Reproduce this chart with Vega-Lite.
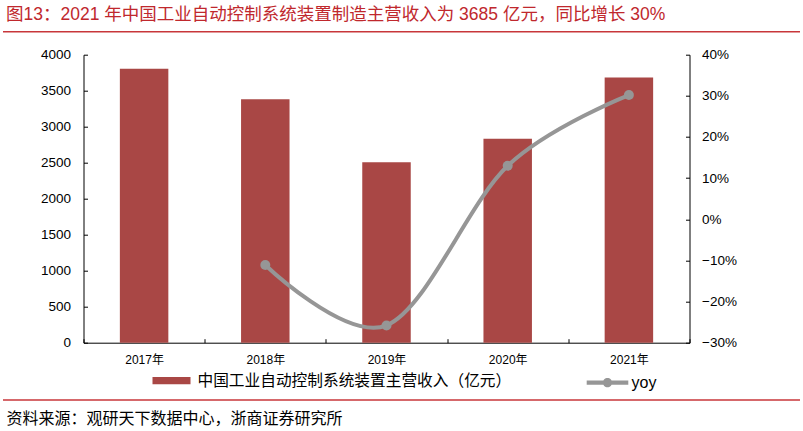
{
  "$schema": "https://vega.github.io/schema/vega-lite/v6.json",
  "width": 606,
  "height": 288,
  "autosize": {"type": "none"},
  "padding": {"left": 83.5, "top": 54.7, "right": 113.5, "bottom": 88.3},
  "background": "white",
  "config": {
    "view": {"stroke": null},
    "font": "Liberation Sans, Noto Sans CJK SC",
    "axis": {
      "domainColor": "#000000",
      "domainWidth": 1,
      "tickColor": "#000000",
      "tickWidth": 1,
      "labelColor": "#000000",
      "labelFont": "Liberation Sans, Noto Sans CJK SC",
      "grid": false
    },
    "legend": {"padding": 0, "labelColor": "#000000", "labelFont": "Liberation Sans, Noto Sans CJK SC"}
  },
  "title": {
    "text": "图13：2021 年中国工业自动控制系统装置制造主营收入为 3685 亿元，同比增长 30%",
    "anchor": "start",
    "frame": "group",
    "dx": -77.5,
    "offset": 7,
    "fontSize": 17.5,
    "fontWeight": "normal",
    "color": "#c0282d",
    "font": "Liberation Sans, Noto Sans CJK SC"
  },
  "data": {
    "values": [
      {"year": "2017年", "income": 3805, "yoy": null},
      {"year": "2018年", "income": 3380, "yoy": -0.111},
      {"year": "2019年", "income": 2505, "yoy": -0.258},
      {"year": "2020年", "income": 2833, "yoy": 0.13},
      {"year": "2021年", "income": 3685, "yoy": 0.302}
    ]
  },
  "layer": [
    {
      "mark": {"type": "bar", "width": {"band": 0.4}},
      "encoding": {
        "x": {
          "field": "year",
          "type": "nominal",
          "sort": null,
          "scale": {"paddingInner": 0, "paddingOuter": 0},
          "axis": {
            "title": "资料来源：观研天下数据中心，浙商证券研究所",
            "labelAngle": 0,
            "labelFontSize": 12,
            "labelBaseline": "middle",
            "labelPadding": 21,
            "tickBand": "extent",
            "tickSize": -4,
            "titleX": -77.5,
            "titleY": 75.3,
            "titleAlign": "left",
            "titleAnchor": "start",
            "titleBaseline": "middle",
            "titleFontSize": 16,
            "titleFontWeight": "normal",
            "titleColor": "#000000",
            "titleFont": "Noto Sans CJK SC"
          }
        },
        "y": {
          "field": "income",
          "type": "quantitative",
          "scale": {"domain": [0, 4000], "nice": false},
          "axis": {
            "title": null,
            "values": [0, 500, 1000, 1500, 2000, 2500, 3000, 3500, 4000],
            "format": "d",
            "labelFontSize": 13.5,
            "labelBaseline": "middle",
            "labelPadding": 17,
            "tickSize": -4
          }
        },
        "color": {
          "datum": "中国工业自动控制系统装置主营收入（亿元）",
          "scale": {"range": ["#a94745"]},
          "legend": {
            "title": null,
            "orient": "none",
            "legendX": 69,
            "legendY": 307,
            "symbolType": "M-1,-0.19H1V0.19H-1Z",
            "symbolSize": 1444,
            "symbolStrokeWidth": 0,
            "labelFontSize": 15.7,
            "labelOffset": 7,
            "labelLimit": 600,
            "labelFont": "Noto Sans CJK SC"
          }
        }
      }
    },
    {
      "transform": [{"filter": "datum.yoy != null"}],
      "layer": [
        {
          "mark": {"type": "line", "color": "#969696", "strokeWidth": 4, "interpolate": "cardinal"},
          "encoding": {
            "x": {"field": "year", "type": "nominal", "sort": null},
            "y": {
              "field": "yoy",
              "type": "quantitative",
              "scale": {"domain": [-0.3, 0.4], "nice": false, "zero": false},
              "axis": {
                "orient": "right",
                "title": null,
                "values": [-0.3, -0.2, -0.1, 0, 0.1, 0.2, 0.3, 0.4],
                "format": ".0%",
                "labelFontSize": 13.5,
                "labelBaseline": "middle",
                "labelPadding": 16,
                "tickSize": -4
              }
            }
          }
        },
        {
          "mark": {"type": "point", "filled": true, "size": 100, "opacity": 1},
          "encoding": {
            "x": {"field": "year", "type": "nominal", "sort": null},
            "y": {"field": "yoy", "type": "quantitative"},
            "color": {
              "datum": "yoy",
              "scale": {"range": ["#969696"]},
              "legend": {
                "title": null,
                "orient": "none",
                "legendX": 503,
                "legendY": 307,
                "symbolType": "M-1,-0.1H1V0.1H-1Z M0.22,0A0.22,0.22 0 1,1 -0.22,0A0.22,0.22 0 1,1 0.22,0Z",
                "symbolSize": 1731,
                "symbolStrokeWidth": 0,
                "symbolOpacity": 1,
                "labelFontSize": 16,
                "labelOffset": 3
              }
            }
          }
        }
      ]
    },
    {
      "data": {"values": [{}]},
      "mark": {"type": "rule", "color": "#c8363a", "strokeWidth": 1.5},
      "encoding": {"x": {"value": -80.5}, "x2": {"value": 716.5}, "y": {"value": -23}}
    },
    {
      "data": {"values": [{}]},
      "mark": {"type": "rule", "color": "#c8363a", "strokeWidth": 1.5},
      "encoding": {"x": {"value": -80.5}, "x2": {"value": 716.5}, "y": {"value": 345.3}}
    }
  ],
  "resolve": {"scale": {"y": "independent", "color": "independent"}}
}
